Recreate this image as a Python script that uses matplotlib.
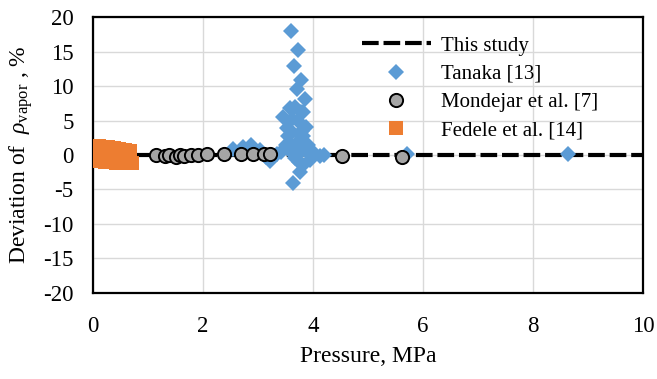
import matplotlib
matplotlib.use('Agg')
import matplotlib.pyplot as plt

# "This study" reference line (deviation = 0)
study_p = [0.0, 10.0]
study_d = [0.0, 0.0]

# Tanaka [13]
tanaka_p = [2.55, 2.72, 2.88, 3.04, 3.15, 3.22, 3.35, 3.42, 3.46, 3.50, 3.52, 3.55,
            3.58, 3.60, 3.60, 3.62, 3.64, 3.65, 3.66, 3.68, 3.70, 3.70, 3.72, 3.72,
            3.74, 3.75, 3.76, 3.78, 3.78, 3.80, 3.82, 3.82, 3.82, 3.85, 3.86, 3.88,
            3.90, 3.95, 4.02, 4.13, 4.20, 3.56, 3.68, 3.74, 3.62, 5.70, 8.63]
tanaka_d = [0.9, 1.2, 1.4, 0.8, -0.3, -0.8, 0.2, 0.5, 5.6, 1.5, 4.0, 2.7,
            6.8, 18.0, 0.5, 3.3, -4.0, 1.0, 12.9, 7.0, 9.6, 0.0, 15.3, 5.0,
            -1.0, 2.0, -2.4, 10.9, 6.2, 3.5, 6.3, 2.7, -1.5, 8.2, 0.7, 4.1,
            1.5, -0.7, 0.3, -0.2, 0.0, 1.8, -0.5, 3.0, 5.2, 0.1, 0.1]

# Mondejar et al. [7]
mondejar_p = [1.15, 1.30, 1.38, 1.50, 1.58, 1.65, 1.78, 1.90, 2.07, 2.38, 2.69,
              2.90, 3.10, 3.22, 4.52, 5.62]
mondejar_d = [0.0, -0.2, 0.0, -0.3, 0.0, -0.2, 0.0, 0.0, 0.1, 0.1, 0.1,
              0.2, 0.2, 0.1, -0.1, -0.3]

# Fedele et al. [14]
fedele_p = [0.07, 0.09, 0.11, 0.13, 0.15, 0.17, 0.19, 0.21, 0.23, 0.26, 0.28, 0.31,
            0.33, 0.36, 0.38, 0.41, 0.43, 0.46, 0.48, 0.51, 0.53, 0.56, 0.58, 0.61,
            0.63, 0.66, 0.68, 0.71]
fedele_d = [1.2, 0.2, 1.3, -0.9, 1.1, 0.1, 1.2, -1.0, 1.0, 0.0, 1.1, -1.0,
            0.9, 0.1, 1.0, -1.1, 0.8, -0.2, 0.9, -1.1, 0.7, -0.3, 0.8, -1.2,
            0.6, -0.4, 0.6, -1.1]

plt.rcParams['font.family'] = ['Liberation Serif', 'DejaVu Serif']
plt.rcParams['mathtext.fontset'] = 'custom'
plt.rcParams['mathtext.rm'] = 'Liberation Serif'
plt.rcParams['mathtext.it'] = 'Liberation Serif:italic'
plt.rcParams['lines.scale_dashes'] = False
plt.rcParams['axes.unicode_minus'] = False

fig = plt.figure(figsize=(6.57, 3.79), dpi=100)
ax = fig.add_axes([0.1416, 0.2277, 0.8371, 0.7264])

ax.plot(study_p, study_d, color='black', lw=3, dashes=(12, 3.5),
        label='This study', zorder=2)
ax.plot(tanaka_p, tanaka_d, 'D', color='#5B9BD5', ms=8.5, mew=0,
        label='Tanaka [13]', zorder=3)
ax.plot(mondejar_p, mondejar_d, 'o', color='#A5A5A5', mec='black', ms=9.5,
        mew=1.4, label='Mondejar et al. [7]', zorder=4)
ax.plot(fedele_p, fedele_d, 's', color='#ED7D31', ms=9.5, mew=0,
        label='Fedele et al. [14]', zorder=5)

ax.set_xlim(0, 10)
ax.set_ylim(-20, 20)
ax.set_xticks([0, 2, 4, 6, 8, 10])
ax.set_yticks([-20, -15, -10, -5, 0, 5, 10, 15, 20])
ax.grid(True, color='#D9D9D9', lw=1.0)
ax.set_axisbelow(True)
ax.tick_params(axis='both', length=0, labelsize=16.5)
ax.tick_params(axis='x', pad=17)
ax.tick_params(axis='y', pad=14)
for s in ax.spines.values():
    s.set_color('black')
    s.set_linewidth(1.6)

ax.set_xlabel('Pressure, MPa', fontsize=17, labelpad=6)
ax.set_ylabel(r'Deviation of  $\rho_{\mathrm{vapor}}$ , %', fontsize=17, labelpad=6)

ax.legend(loc='upper left', bbox_to_anchor=(362 / 657, 1 - 36 / 379),
          bbox_transform=fig.transFigure, frameon=False, fontsize=15,
          handlelength=3.3, handletextpad=0.5, labelspacing=0.42,
          borderpad=0, borderaxespad=0)

fig.savefig('out.png', dpi=100)
